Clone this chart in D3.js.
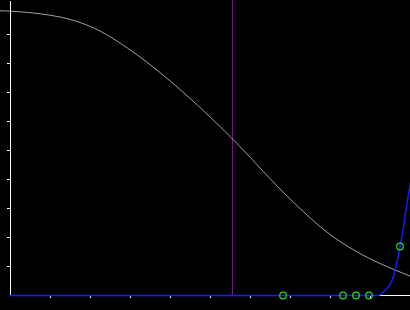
<!DOCTYPE html>
<html>
<head>
<meta charset="utf-8">
<script src="https://cdn.jsdelivr.net/npm/d3@7"></script>
<style>
  html, body { margin: 0; padding: 0; background: #000; overflow: hidden; }
  svg { display: block; background: #000; }
</style>
</head>
<body>
<svg id="chart"></svg>
<script>
const W = 410, H = 310;
const margin = {left: 10, bottom: 15};

// tick positions (unlabelled)
const xTicks = [1, 2, 3, 4, 5, 6, 7, 8, 9];
const yTicks = [1, 2, 3, 4, 5, 6, 7, 8, 9];

// grey decreasing curve
const greyX = [-0.25, 0.25, 0.75, 1.25, 1.75, 2.25, 2.75, 3.25, 3.75, 4.25, 4.75, 5.25, 5.75, 6.25, 6.75, 7.25, 7.75, 8.25, 8.75, 9.25, 9.75, 10.0];
const greyY = [9.803, 9.766, 9.697, 9.586, 9.397, 9.103, 8.690, 8.207, 7.672, 7.086, 6.466, 5.810, 5.121, 4.379, 3.655, 2.983, 2.362, 1.845, 1.431, 1.086, 0.793, 0.655];

// blue rising curve
const blueX = [0, 9.05, 9.175, 9.275, 9.375, 9.55, 9.625, 9.75, 9.825, 9.9, 9.975, 10.05];
const blueY = [0, 0, 0, 0.05, 0.17, 0.52, 0.86, 1.69, 2.25, 2.95, 3.6, 4.2];

// green markers
const ptX = [6.825, 8.325, 8.65, 8.975, 9.75];
const ptY = [0, 0, 0, 0, 1.69];

// vertical marker line
const vLine = 5.54;

const svg = d3.select("#chart").attr("width", W).attr("height", H);

const x = d3.scaleLinear().domain([0, 10]).range([margin.left, W]);
const y = d3.scaleLinear().domain([0, (H - margin.bottom) / 29]).range([H - margin.bottom, 0]);

// vertical line
svg.append("line")
  .attr("x1", Math.round(x(vLine)) + 0.5)
  .attr("x2", Math.round(x(vLine)) + 0.5)
  .attr("y1", y.range()[1])
  .attr("y2", y(0))
  .attr("stroke", "#6e1a7e")
  .attr("stroke-width", 1);

const line = d3.line()
  .x(d => x(d[0]))
  .y(d => y(d[1]))
  .curve(d3.curveMonotoneX);

svg.append("path")
  .datum(d3.zip(greyX, greyY))
  .attr("fill", "none")
  .attr("stroke", "#a0a0a0")
  .attr("stroke-width", 1)
  .attr("d", line);

// axes
const xAxis = d3.axisBottom(x).tickValues(xTicks).tickSize(3).tickSizeOuter(0).tickFormat("");
const yAxis = d3.axisLeft(y).tickValues(yTicks).tickSize(3).tickSizeOuter(0).tickFormat("");

svg.append("g")
  .attr("transform", "translate(0," + y(0) + ")")
  .call(xAxis)
  .call(g => g.selectAll("path, line").attr("stroke", "#fff").attr("shape-rendering", "crispEdges"));

svg.append("g")
  .attr("transform", "translate(" + margin.left + ",0)")
  .call(yAxis)
  .call(g => g.selectAll("path, line").attr("stroke", "#fff").attr("shape-rendering", "crispEdges"));

svg.append("path")
  .datum(d3.zip(blueX, blueY))
  .attr("fill", "none")
  .attr("stroke", "#1a1aff")
  .attr("stroke-width", 1.5)
  .attr("d", d3.line()
    .x(d => x(d[0]))
    .y(d => y(d[1]) + 0.5)
    .curve(d3.curveMonotoneX));

svg.append("g")
  .selectAll("circle")
  .data(d3.zip(ptX, ptY))
  .join("circle")
    .attr("cx", d => x(d[0]))
    .attr("cy", d => y(d[1]) + 0.5)
    .attr("r", 3.3)
    .attr("fill", "none")
    .attr("stroke", "#22dd22")
    .attr("stroke-width", 1.2);
</script>
</body>
</html>
